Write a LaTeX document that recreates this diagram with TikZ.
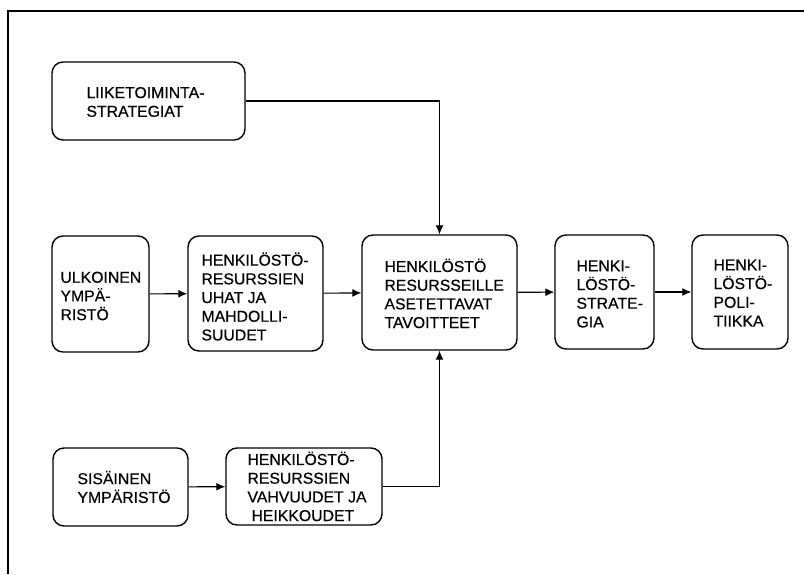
\documentclass[tikz,border=0pt]{standalone}
\usepackage{fontspec}
\setmainfont{Liberation Sans}[FakeBold=0.4]
\usetikzlibrary{arrows.meta}
\tikzset{
  bx/.style={draw, line width=1.4pt, rounded corners=11pt, inner sep=0pt},
  txt/.style={anchor=west, align=left, inner sep=0pt,
    font=\fontsize{15.8}{18.7}\selectfont},
  arr/.style={line width=1.1pt, -{Latex[length=9pt,width=8pt]}},
  frame/.style={line width=1.4pt}
}
\begin{document}
\begin{tikzpicture}[x=1pt,y=-1pt]
\useasboundingbox (0,0) rectangle (804,574);
% frame
\coordinate (f1) at (8,574);
\coordinate (f2) at (8,11);
\coordinate (f3) at (804,11);
\draw[frame] (f1) -- (f2) -- (f3);
% boxes
\node[bx, minimum width=193pt, minimum height=78pt] (lk) at (148.5,101) {};
\node[bx, minimum width=97pt, minimum height=116pt] (ul) at (100.5,294) {};
\node[bx, minimum width=135pt, minimum height=115pt] (uh) at (255.5,293.5) {};
\node[bx, minimum width=155pt, minimum height=115pt] (c) at (439.5,292.5) {};
\node[bx, minimum width=99pt, minimum height=114pt] (st) at (604.5,292) {};
\node[bx, minimum width=96pt, minimum height=114pt] (po) at (740,292) {};
\node[bx, minimum width=135pt, minimum height=78pt] (si) at (120.5,487) {};
\node[bx, minimum width=156pt, minimum height=77pt] (va) at (304,486.5) {};
% texts
\node[txt] (lkt) at ([xshift=35pt,yshift=-1pt]lk.west) {LIIKETOIMINTA-\\STRATEGIAT};
\node[txt] (ult) at ([xshift=9pt,yshift=-2pt]ul.west) {ULKOINEN\\YMPÄ-\\RISTÖ};
\node[txt] (uht) at ([xshift=14pt,yshift=-3pt]uh.west) {HENKILÖSTÖ-\\RESURSSIEN\\UHAT JA\\MAHDOLLI-\\SUUDET};
\node[txt] (ct) at ([xshift=23pt,yshift=-1pt]c.west) {HENKILÖSTÖ\\RESURSSEILLE\\ASETETTAVAT\\TAVOITTEET};
\node[txt] (stt) at ([xshift=22pt,yshift=-2pt]st.west) {HENKI-\\LÖSTÖ-\\STRATE-\\GIA};
\node[txt] (pot) at ([xshift=22pt,yshift=-1pt]po.west) {HENKI-\\LÖSTÖ-\\POLI-\\TIIKKA};
\node[txt] (sit) at ([xshift=25pt]si.west) {SISÄINEN\\YMPÄRISTÖ};
\node[txt] (vat) at ([xshift=22pt]va.west) {HENKILÖSTÖ-\\RESURSSIEN\\VAHVUUDET JA\\\hspace*{4pt}HEIKKOUDET};
% connectors
\draw[arr] (lk.east) -| (c.north);
\draw[arr] (ul) -- (uh);
\draw[arr] (uh) -- (c);
\draw[arr] (c) -- (st);
\draw[arr] (st) -- (po);
\draw[arr] (si) -- (va);
\draw[arr] (va.east) -| (c.south);
\end{tikzpicture}
\end{document}
